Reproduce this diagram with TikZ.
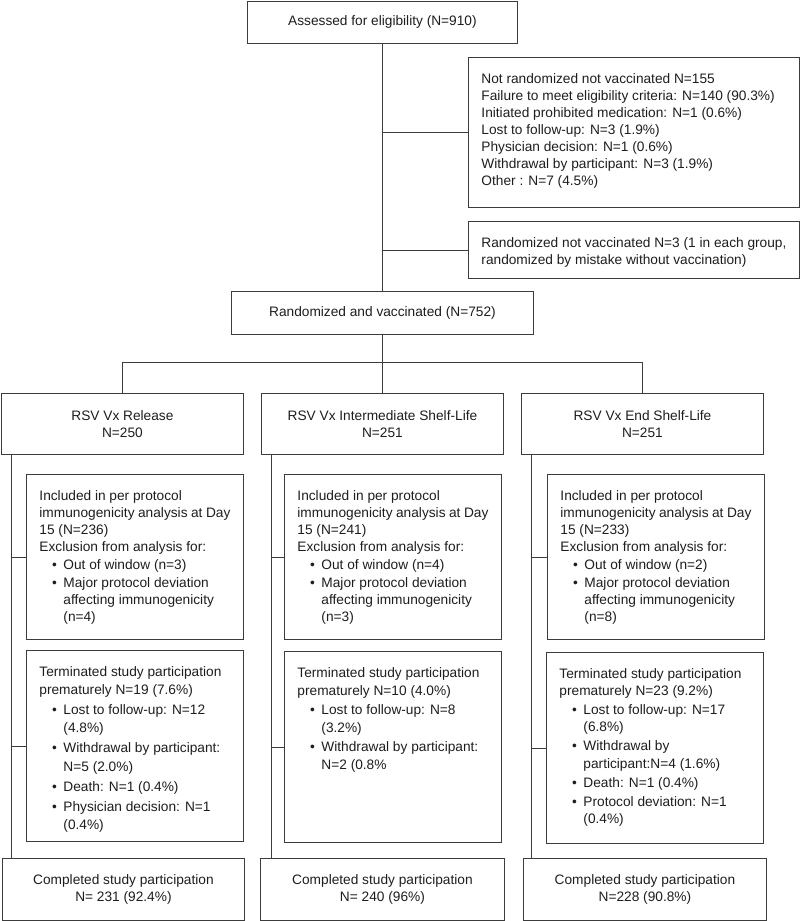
\documentclass[tikz,border=0pt]{standalone}
\usepackage{xcolor}
\usepackage{fontspec}
\setmainfont{Liberation Sans}
\usepackage{tikz}
\usetikzlibrary{positioning}
\usetikzlibrary{calc}

\definecolor{linec}{HTML}{3C3C3C}
\definecolor{txtc}{HTML}{1E1E1E}

% text of a left-aligned box: width, height, content
\newcommand{\boxtxt}[3]{\begin{minipage}[t][#2][t]{#1}\raggedright #3\end{minipage}}
\newenvironment{bul}[1][17pt]{\fontsize{13.7}{#1}\selectfont\begin{list}{\textbullet}{\setlength{\leftmargin}{24pt}\setlength{\labelsep}{6.5pt}\setlength{\labelwidth}{10pt}\setlength{\itemsep}{1.5pt}\setlength{\topsep}{1pt}\setlength{\partopsep}{0pt}\setlength{\parsep}{0pt}}}{\end{list}}

\begin{document}
\begin{tikzpicture}[
  x=1pt, y=-1pt,
  font=\fontsize{13.7}{17}\selectfont,
  box/.style={draw=linec, line width=0.9pt, anchor=north west, inner sep=2pt, align=center, text=txtc},
  tbox/.style={draw=linec, line width=0.9pt, anchor=north west, inner xsep=13pt, inner ysep=16pt, text=txtc},
  ln/.style={draw=linec, line width=0.9pt}
]
  \useasboundingbox[fill=white] (0,0) rectangle (800,921);

  % screening
  \node[box, minimum width=270pt, minimum height=42pt] (elig) at (247,1) {Assessed for eligibility (N=910)};
  \node[tbox, minimum width=331pt, minimum height=150pt] (notrand) at (468,57) {\boxtxt{305pt}{118pt}{%
    Not randomized not vaccinated N=155\\
    Failure to meet eligibility criteria: N=140 (90.3\%)\\
    Initiated prohibited medication: N=1 (0.6\%)\\
    Lost to follow-up: N=3 (1.9\%)\\
    Physician decision: N=1 (0.6\%)\\
    Withdrawal by participant: N=3 (1.9\%)\\
    Other : N=7 (4.5\%)}};
  \node[tbox, minimum width=331pt, minimum height=57pt] (randnv) at (468,221) {\boxtxt{305pt}{25pt}{%
    Randomized not vaccinated N=3 (1 in each group,\\
    randomized by mistake without vaccination)}};
  \node[box, minimum width=302pt, minimum height=43pt] (randvac) at (231,291) {Randomized and vaccinated (N=752)};

  % groups
  \node[box, minimum width=242pt, minimum height=61pt] (arm1) at (1,393) {RSV Vx Release\\N=250};
  \node[box, minimum width=242pt, minimum height=61pt] (arm2) at (261,393) {RSV Vx Intermediate Shelf-Life\\N=251};
  \node[box, minimum width=242pt, minimum height=61pt] (arm3) at (521,393) {RSV Vx End Shelf-Life\\N=251};

  % per protocol analysis
  \node[tbox, minimum width=217pt, minimum height=165pt] (incl1) at (26,474) {\boxtxt{191pt}{133pt}{%
    Included in per protocol\\ immunogenicity analysis at Day\\ 15 (N=236)\\ Exclusion from analysis for:
    \begin{bul}
      \item Out of window (n=3)
      \item Major protocol deviation\\ affecting immunogenicity\\ (n=4)
    \end{bul}}};
  \node[tbox, minimum width=217pt, minimum height=165pt] (incl2) at (284,474) {\boxtxt{191pt}{133pt}{%
    Included in per protocol\\ immunogenicity analysis at Day\\ 15 (N=241)\\ Exclusion from analysis for:
    \begin{bul}
      \item Out of window (n=4)
      \item Major protocol deviation\\ affecting immunogenicity\\ (n=3)
    \end{bul}}};
  \node[tbox, minimum width=217pt, minimum height=165pt] (incl3) at (547,474) {\boxtxt{191pt}{133pt}{%
    Included in per protocol\\ immunogenicity analysis at Day\\ 15 (N=233)\\ Exclusion from analysis for:
    \begin{bul}
      \item Out of window (n=2)
      \item Major protocol deviation\\ affecting immunogenicity\\ (n=8)
    \end{bul}}};

  % early termination
  \node[tbox, minimum width=217pt, minimum height=191pt] (term1) at (26,650) {\boxtxt{191pt}{159pt}{%
    Terminated study participation\\ prematurely N=19 (7.6\%)
    \begin{bul}[18.5pt]
      \item Lost to follow-up: N=12\\ (4.8\%)
      \item Withdrawal by participant:\\ N=5 (2.0\%)
      \item Death: N=1 (0.4\%)
      \item Physician decision: N=1\\ (0.4\%)
    \end{bul}}};
  \node[tbox, minimum width=217pt, minimum height=191pt] (term2) at (284,651) {\boxtxt{191pt}{159pt}{%
    Terminated study participation\\ prematurely N=10 (4.0\%)
    \begin{bul}[18pt]
      \item Lost to follow-up: N=8\\ (3.2\%)
      \item Withdrawal by participant:\\ N=2 (0.8\%
    \end{bul}}};
  \node[tbox, minimum width=217pt, minimum height=191pt] (term3) at (546,652) {\boxtxt{191pt}{159pt}{%
    Terminated study participation\\ prematurely N=23 (9.2\%)
    \begin{bul}[17.5pt]
      \item Lost to follow-up: N=17\\ (6.8\%)
      \item Withdrawal by\\ participant:N=4 (1.6\%)
      \item Death: N=1 (0.4\%)
      \item Protocol deviation: N=1\\ (0.4\%)
    \end{bul}}};

  % completed
  \node[box, minimum width=242pt, minimum height=62pt] (comp1) at (2,858) {Completed study participation\\N= 231 (92.4\%)};
  \node[box, minimum width=244pt, minimum height=62pt] (comp2) at (260,858) {Completed study participation\\N= 240 (96\%)};
  \node[box, minimum width=243pt, minimum height=62pt] (comp3) at (523,858) {Completed study participation\\N=228 (90.8\%)};

  % connectors
  \draw[ln] (elig.south) -- (randvac.north);
  \draw[ln] (elig.south |- notrand.west) -- (notrand.west);
  \draw[ln] (elig.south |- randnv.west) -- (randnv.west);

  \coordinate (split) at ($(randvac.south)+(0,28)$);
  \draw[ln] (randvac.south) -- (split) -- (arm2.north);
  \draw[ln] (arm1.north) |- (split) -| (arm3.north);

  \foreach \i in {1,2,3} {
    \coordinate (side\i) at ($(arm\i.south west)+(10,0)$);
    \draw[ln] (side\i) -- (side\i |- comp\i.north);
    \draw[ln] (side\i |- incl\i.west) -- (incl\i.west);
    \draw[ln] (side\i |- term\i.west) -- (term\i.west);
  }
\end{tikzpicture}
\end{document}
